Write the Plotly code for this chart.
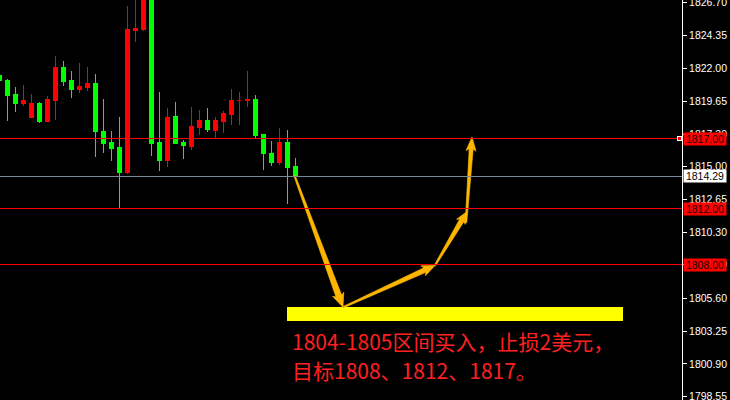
import plotly.graph_objects as go

# ---------------- data ----------------
bar_index = list(range(38))
open_ = [1821.53, 1821.17, 1820.17, 1819.53, 1818.47, 1819.53, 1818.25, 1819.75, 1822.10, 1821.17,
         1820.53, 1820.67, 1820.96, 1817.47, 1816.69, 1816.33, 1814.55, 1824.73, 1824.80, 1828.50,
         1816.69, 1815.41, 1818.54, 1816.69, 1816.40, 1817.76, 1818.32, 1817.54, 1818.25, 1818.75,
         1819.68, 1819.68, 1819.82, 1817.26, 1815.90, 1815.26, 1816.69, 1814.98]
high_ = [1821.75, 1821.26, 1820.67, 1820.82, 1820.17, 1819.61, 1820.03, 1822.88, 1822.52, 1821.81,
         1822.38, 1822.10, 1821.60, 1819.82, 1817.54, 1818.54, 1826.44, 1827.50, 1829.00, 1828.90,
         1820.32, 1819.18, 1819.61, 1816.90, 1819.25, 1819.04, 1819.18, 1818.54, 1818.97, 1820.53,
         1820.32, 1821.81, 1820.10, 1817.26, 1816.83, 1817.76, 1817.61, 1815.62]
low_ = [1821.00, 1818.25, 1818.89, 1819.32, 1818.47, 1818.11, 1818.18, 1818.32, 1820.74, 1819.89,
        1820.25, 1820.39, 1815.69, 1815.98, 1815.41, 1811.99, 1814.48, 1823.88, 1824.66, 1815.76,
        1814.69, 1814.98, 1816.62, 1815.55, 1816.19, 1817.26, 1817.47, 1817.04, 1817.40, 1817.97,
        1817.97, 1819.25, 1817.04, 1814.77, 1815.05, 1815.12, 1812.35, 1814.29]
close_ = [1821.17, 1820.10, 1819.53, 1819.75, 1819.53, 1818.18, 1819.82, 1822.10, 1821.10, 1820.53,
          1820.74, 1820.96, 1817.47, 1816.62, 1816.26, 1814.55, 1824.80, 1824.89, 1828.60, 1816.62,
          1815.41, 1818.47, 1816.62, 1816.47, 1817.83, 1818.32, 1817.61, 1818.32, 1818.82, 1819.68,
          1819.68, 1819.82, 1817.19, 1815.90, 1815.26, 1816.69, 1814.91, 1814.29]

bid_price = 1814.29
target_levels = [1817.00, 1812.00, 1808.00]
buy_zone = [1804.00, 1804.95]

tick_vals = [1826.70, 1824.35, 1822.00, 1819.65, 1817.30, 1815.00, 1812.65, 1810.30,
             1808.00, 1805.60, 1803.25, 1800.90, 1798.55]
tick_text = ["1826.70", "1824.35", "1822.00", "1819.65", "1817.30", "1815.00", "1812.65",
             "1810.30", "1808.00", "1805.60", "1803.25", "1800.90", "1798.55"]

# forecast path (bar position, price)
path_x = [36.9, 42.96, 54.46, 58.46]
path_p = [1814.35, 1804.94, 1807.93, 1811.78]
last_leg = [(58.34, 1810.99), (59.09, 1817.11)]

text_line1 = "1804-1805区间买入，止损2美元，"
text_line2 = "目标1808、1812、1817。"

# ---------------- layout geometry ----------------
W, H = 730, 400
MR = 48
PW = W - MR
x_range = [0.0875, 0.0875 + PW / 8.0]
y_range = [1798.3214, 1826.8929]
sx = PW / (x_range[1] - x_range[0])
sy = H / (y_range[1] - y_range[0])


def to_px(x, p):
    return (x - x_range[0]) * sx, (y_range[1] - p) * sy


def to_data(X, Y):
    return X / sx + x_range[0], y_range[1] - Y / sy


def arrow_poly(a, b, w0, w1, hw, hl):
    X0, Y0 = to_px(*a)
    X1, Y1 = to_px(*b)
    dx, dy = X1 - X0, Y1 - Y0
    L = (dx * dx + dy * dy) ** 0.5
    ux, uy = dx / L, dy / L
    nx, ny = -uy, ux
    bx, by = X1 - ux * hl, Y1 - uy * hl
    pts = [
        (X0 + nx * w0 / 2, Y0 + ny * w0 / 2),
        (bx + nx * w1 / 2, by + ny * w1 / 2),
        (bx - ux * 2 + nx * hw / 2, by - uy * 2 + ny * hw / 2),
        (X1, Y1),
        (bx - ux * 2 - nx * hw / 2, by - uy * 2 - ny * hw / 2),
        (bx - nx * w1 / 2, by - ny * w1 / 2),
        (X0 - nx * w0 / 2, Y0 - ny * w0 / 2),
    ]
    d = [to_data(X, Y) for X, Y in pts]
    d.append(d[0])
    return [q[0] for q in d], [q[1] for q in d]


fig = go.Figure()

fig.add_trace(go.Candlestick(
    x=bar_index, open=open_, high=high_, low=low_, close=close_,
    increasing=dict(line=dict(color="#ff0000", width=1), fillcolor="#ff0000"),
    decreasing=dict(line=dict(color="#00ff00", width=1), fillcolor="#00ff00"),
    whiskerwidth=0, hoverinfo="skip", showlegend=False,
))

legs = [((path_x[i], path_p[i]), (path_x[i + 1], path_p[i + 1])) for i in range(len(path_x) - 1)]
legs.append(tuple(last_leg))
specs = [(1.5, 6, 12, 12), (1.5, 5, 11, 11), (1.5, 5, 10, 10), (1.5, 4, 10, 12)]
for (a, b), (w0, w1, hw, hl) in zip(legs, specs):
    ax, ay = arrow_poly(a, b, w0, w1, hw, hl)
    fig.add_trace(go.Scatter(x=ax, y=ay, mode="lines", fill="toself",
                             fillcolor="#ffb400", line=dict(color="#ffc400", width=0.6),
                             hoverinfo="skip", showlegend=False))

shapes = []
for lv in target_levels:
    shapes.append(dict(type="line", xref="paper", x0=0, x1=1, yref="y", y0=lv, y1=lv,
                       line=dict(color="#ff0000", width=1), layer="above"))
shapes.append(dict(type="line", xref="paper", x0=0, x1=1, yref="y", y0=bid_price, y1=bid_price,
                   line=dict(color="#778899", width=1), layer="above"))
zx0, _ = to_data(287, 0)
zx1, _ = to_data(623, 0)
shapes.append(dict(type="rect", xref="x", x0=zx0, x1=zx1, yref="y", y0=buy_zone[0], y1=buy_zone[1],
                   fillcolor="#ffff00", line=dict(width=0), layer="below"))
hx0, _ = to_data(677.5, 0)
hx1, _ = to_data(681.5, 0)
shapes.append(dict(type="rect", xref="x", x0=hx0, x1=hx1, yref="y",
                   y0=target_levels[0] - 2 / sy, y1=target_levels[0] + 2 / sy,
                   fillcolor="#ff0000", line=dict(color="#ffffff", width=1), layer="above"))

annotations = []
for lv in target_levels:
    annotations.append(dict(xref="paper", x=1, xanchor="left", xshift=1, yref="y", y=lv,
                            yanchor="middle", text=f"{lv:.2f}", showarrow=False,
                            bgcolor="#ff0000", borderpad=0, width=42,
                            font=dict(family="Liberation Sans", size=10.5, color="#1a0000")))
annotations.append(dict(xref="paper", x=1, xanchor="left", xshift=1, yref="y", y=bid_price,
                        yanchor="middle", text=f"{bid_price:.2f}", showarrow=False,
                        bgcolor="#ffffff", borderpad=0, width=42,
                        font=dict(family="Liberation Sans", size=10.5, color="#000000")))
annotations.append(dict(xref="paper", x=290 / PW, xanchor="left", yref="paper", y=1 - 341 / H,
                        yanchor="middle", text=text_line1, showarrow=False,
                        font=dict(family="Noto Sans CJK SC", size=21, color="#ff2020")))
annotations.append(dict(xref="paper", x=290 / PW, xanchor="left", yref="paper", y=1 - 370 / H,
                        yanchor="middle", text=text_line2, showarrow=False,
                        font=dict(family="Noto Sans CJK SC", size=21, color="#ff2020")))

fig.update_layout(
    width=W, height=H,
    margin=dict(l=0, r=MR, t=0, b=0, autoexpand=False),
    paper_bgcolor="#000000", plot_bgcolor="#000000",
    boxgap=0.35,
    shapes=shapes, annotations=annotations,
    xaxis=dict(range=x_range, visible=False, rangeslider=dict(visible=False), fixedrange=True,
               automargin=False),
    yaxis=dict(range=y_range, side="right", tickvals=tick_vals, ticktext=tick_text,
               showgrid=False, zeroline=False, showline=True, linecolor="#ffffff", linewidth=1,
               ticks="outside", ticklen=4, tickcolor="#ffffff", ticklabeloverflow="allow",
               automargin=False,
               tickfont=dict(family="Liberation Sans", size=10.5, color="#ffffff"),
               fixedrange=True),
)

post_js = """
document.body.style.margin='0';document.body.style.padding='0';
document.body.style.overflow='hidden';document.body.style.background='#000';
var gd = document.getElementById('{plot_id}');
function crisp(){
  document.querySelectorAll('.shapelayer path, .boxlayer path').forEach(function(p){
    p.setAttribute('shape-rendering','crispEdges');
  });
}
crisp(); setTimeout(crisp, 50); setTimeout(crisp, 300);
if (gd && gd.on) { gd.on('plotly_afterplot', crisp); }
"""

fig.write_html("out.html", config={"displayModeBar": False}, post_script=post_js)
